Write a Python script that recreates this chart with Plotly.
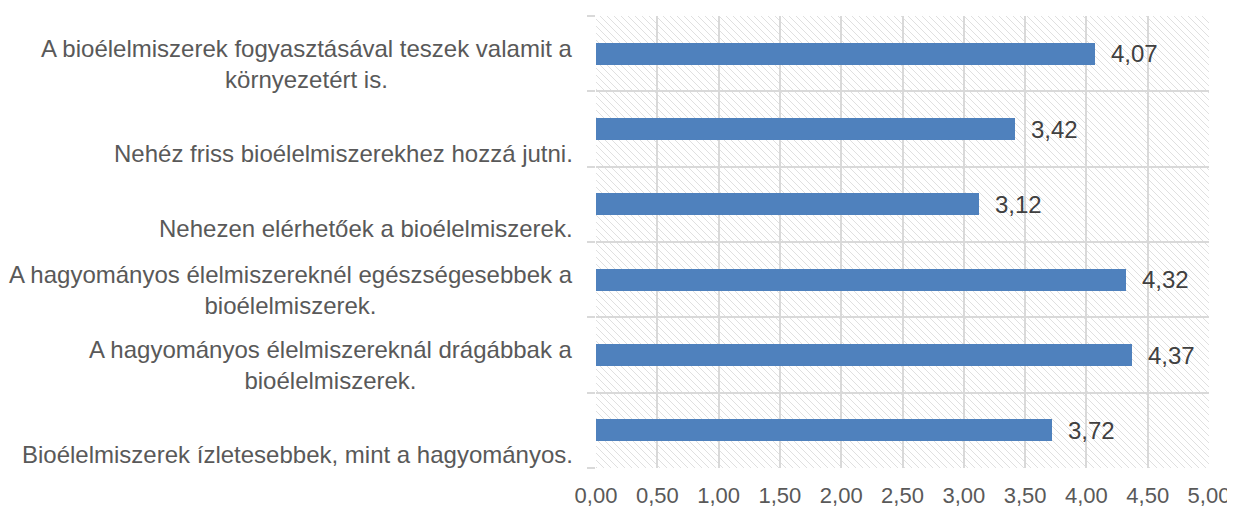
import plotly.graph_objects as go

# Data (bottom to top)
categories = [
    "Bioélelmiszerek ízletesebbek, mint a hagyományos.",
    "A hagyományos élelmiszereknál drágábbak a<br>bioélelmiszerek.",
    "A hagyományos élelmiszereknél egészségesebbek a<br>bioélelmiszerek.",
    "Nehezen elérhetőek a bioélelmiszerek.",
    "Nehéz friss bioélelmiszerekhez hozzá jutni.",
    "A bioélelmiszerek fogyasztásával teszek valamit a<br>környezetért is.",
]
values = [3.72, 4.37, 4.32, 3.12, 3.42, 4.07]
value_labels = ["3,72", "4,37", "4,32", "3,12", "3,42", "4,07"]
x_tickvals = [0, 0.5, 1, 1.5, 2, 2.5, 3, 3.5, 4, 4.5, 5]
x_ticktext = ["0,00", "0,50", "1,00", "1,50", "2,00", "2,50", "3,00", "3,50", "4,00", "4,50", "5,00"]

FONT = "Liberation Sans, Arial, sans-serif"
# page has an 8px body margin, so the figure is 8px smaller on each axis
W_FIG, H_FIG = 1227, 500
ML, MR, MT, MB = 588, 26, 8, 40
PW, PH = W_FIG - ML - MR, H_FIG - MT - MB
GRID = "#d9d9d9"

pos = list(range(len(categories)))

fig = go.Figure()
fig.add_trace(go.Bar(
    x=values, y=pos, orientation="h", width=0.29,
    marker=dict(color="#4f81bd", line=dict(width=0)),
    hoverinfo="skip", showlegend=False,
))

# Hatched background (decorative), clipped to plot area, below gridlines
shapes = []
step = 7
k = -PW
while k <= PH:
    x1 = max(0, -k)
    x2 = min(PW, PH - k)
    if x2 > x1:
        shapes.append(dict(
            type="line", xref="x domain", yref="y domain", layer="below",
            x0=x1 / PW, y0=1 - (x1 + k) / PH,
            x1=x2 / PW, y1=1 - (x2 + k) / PH,
            line=dict(color="#e0e0e0", width=1),
        ))
    k += step

annotations = []
for i, (cat, v, lab) in enumerate(zip(categories, values, value_labels)):
    nlines = cat.count("<br>") + 1
    annotations.append(dict(
        x=0, xref="paper", y=i, yref="y", text=cat, showarrow=False,
        xanchor="right", yanchor="middle", align="center", xshift=-21,
        yshift=-(24 - 14 * (nlines - 1)),
        font=dict(family=FONT, size=24, color="#595959"),
    ))
    annotations.append(dict(
        x=v, xref="x", y=i, yref="y", text=lab, showarrow=False,
        xanchor="left", yanchor="middle", xshift=14,
        font=dict(family=FONT, size=24, color="#404040"),
    ))

fig.update_layout(
    width=W_FIG, height=H_FIG,
    margin=dict(l=ML, r=MR, t=MT, b=MB),
    paper_bgcolor="white", plot_bgcolor="white",
    shapes=shapes, annotations=annotations,
    bargap=0,
    xaxis=dict(
        range=[0, 5], tickvals=x_tickvals, ticktext=x_ticktext,
        showgrid=True, gridcolor=GRID, gridwidth=1.5, zeroline=False,
        showline=False, ticks="", automargin=False, ticklabelstandoff=12,
        tickfont=dict(family=FONT, size=22, color="#595959"),
    ),
    yaxis=dict(
        range=[-0.5, 5.5], tickvals=[-0.5, 0.5, 1.5, 2.5, 3.5, 4.5, 5.5],
        showticklabels=False, showgrid=True, gridcolor=GRID, gridwidth=1.5,
        zeroline=False, ticks="outside", ticklen=8, tickcolor=GRID, tickwidth=1.5,
        showline=False, automargin=False,
    ),
)

fig.write_html("out.html")
